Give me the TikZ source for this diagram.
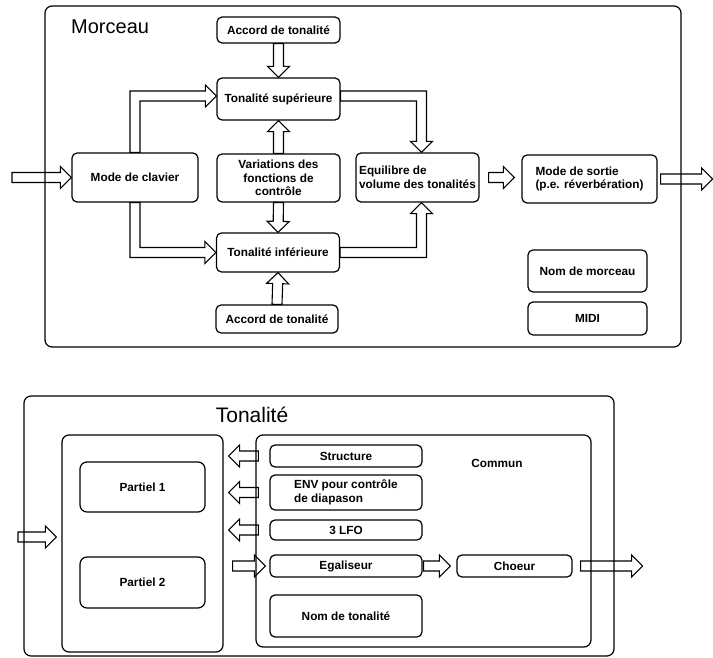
\documentclass[tikz,border=0pt]{standalone}
\usepackage{fontspec}
\setmainfont{Liberation Sans}
\usetikzlibrary{calc}
\pgfdeclarelayer{bg}
\pgfsetlayers{bg,main}
\def\aw{5pt}\def\ahw{11pt}\def\ahl{11pt}
\newcommand{\boxfont}{\bfseries\fontsize{11.8}{13.5}\selectfont}
\tikzset{
 box/.style={draw, line width=1.2pt, rounded corners=5pt, align=center, inner sep=2pt, font=\boxfont},
 frame/.style={draw, line width=1.2pt, rounded corners=7pt, inner sep=0pt},
 barr/.style={draw, fill=white, line width=1.1pt, line join=miter},
}
\newcommand{\barrow}[2]{%
 \coordinate (bah) at ($(#2)!\ahl!(#1)$);
 \draw[barr] ($(#1)!\aw!90:(#2)$) -- ($(bah)!\aw!90:(#2)$) -- ($(bah)!\ahw!90:(#2)$) -- (#2)
   -- ($(bah)!\ahw!-90:(#2)$) -- ($(bah)!\aw!-90:(#2)$) -- ($(#1)!\aw!-90:(#2)$) -- cycle;}
% L-shaped hollow arrow: #1 start, #2 corner, #3 tip
\newcommand{\lblock}[3]{%
 \coordinate (bah) at ($(#3)!\ahl!(#2)$);
 \coordinate (ua) at ($(#2)!\aw!(#1)$);
 \coordinate (ut) at ($(#2)!\aw!(#3)$);
 \coordinate (ha) at ($(#2)!\ahw!(#1)$);
 \draw[barr] ($(#1)+(ut)-(#2)$) -- ($(ua)+(ut)-(#2)$) -- ($(bah)+(ua)-(#2)$) -- ($(bah)+(ha)-(#2)$)
   -- (#3) -- ($(bah)-(ha)+(#2)$) -- ($(bah)-(ua)+(#2)$)
   -- ($(#2)-(ua)+(#2)-(ut)+(#2)$) -- ($(#1)-(ut)+(#2)$) -- cycle;}
\begin{document}
\begin{tikzpicture}[x=1pt,y=-1pt]
\useasboundingbox (0,0) rectangle (713,658);
% ---------- Morceau ----------
\node[frame, minimum width=636pt, minimum height=341pt] (morceau) at (363,176.5) {};
\node[anchor=west, inner sep=0pt, font=\fontsize{20}{24}\selectfont] (tmor) at (71,27) {Morceau};
\node[box, minimum width=123pt, minimum height=26pt] (acc1) at (278.5,30) {Accord de tonalité};
\node[box, minimum width=123pt, minimum height=42pt] (tsup) at (278.5,99) {Tonalité supérieure};
\node[box, minimum width=126pt, minimum height=49pt] (clav) at (135,177.5) {Mode de clavier};
\node[box, minimum width=123pt, minimum height=48pt] (var) at (278.5,178) {Variations des\\fonctions de\\contrôle};
\node[box, align=left, minimum width=123pt, minimum height=49pt] (equil) at (417.5,177.5) {Equilibre de\\volume des tonalités};
\node[box, align=left, minimum width=135pt, minimum height=48pt] (sortie) at (589.5,179) {Mode de sortie\\(p.e. réverbération)};
\node[box, minimum width=123pt, minimum height=39pt] (tinf) at (278,252.5) {Tonalité inférieure};
\node[box, minimum width=122pt, minimum height=28pt] (acc2) at (277,319) {Accord de tonalité};
\node[box, minimum width=119pt, minimum height=42pt] (nommor) at (587.5,271) {Nom de morceau};
\node[box, minimum width=119pt, minimum height=33pt] (midi) at (587.5,318.5) {MIDI};
% ---------- Tonalite ----------
\node[frame, minimum width=590pt, minimum height=260pt] (tonalite) at (319,526) {};
\node[inner sep=0pt, font=\fontsize{21}{25}\selectfont] (tton) at (252,415) {Tonalité};
\node[frame, minimum width=161pt, minimum height=217pt] (cont) at (142.5,543.5) {};
\node[box, minimum width=125pt, minimum height=50pt, rounded corners=7pt] (p1) at (142.5,487) {Partiel 1};
\node[box, minimum width=125pt, minimum height=51pt, rounded corners=7pt] (p2) at (142.5,582.5) {Partiel 2};
\node[frame, minimum width=335pt, minimum height=212pt] (commun) at (423.5,541) {};
\node[inner sep=0pt, font=\boxfont] (lcom) at (497,463) {Commun};
\node[box, minimum width=152pt, minimum height=22pt] (struct) at (346,456) {Structure};
\node[box, align=left, minimum width=152pt, minimum height=35pt] (env) at (346,492.5) {ENV pour contrôle\\de diapason};
\node[box, minimum width=152pt, minimum height=20pt] (lfo) at (346,530) {3 LFO};
\node[box, minimum width=152pt, minimum height=22pt] (egal) at (346,566) {Egaliseur};
\node[box, minimum width=115pt, minimum height=22pt] (choeur) at (514.5,566) {Choeur};
\node[box, minimum width=152pt, minimum height=42pt] (nomton) at (346,616) {Nom de tonalité};
% ---------- arrows ----------
\begin{pgfonlayer}{bg}
\coordinate (in1) at (12,177.5);
\barrow{in1}{clav.west}
\barrow{acc1.south}{tsup.north}
\barrow{var.north}{tsup.south}
\barrow{var.south}{tinf.north}
\barrow{acc2.north}{tinf.south}
\coordinate[xshift=9pt] (q1) at (equil.east);
\coordinate[xshift=-7pt] (q2) at (q1 -| sortie.west);
\barrow{q1}{q2}
\coordinate[xshift=3pt] (o1) at (sortie.east);
\coordinate[xshift=52pt] (o2) at (o1);
\barrow{o1}{o2}
\coordinate[yshift=3pt] (w1) at (tsup.west);
\coordinate (c1) at (clav.north |- w1);
\lblock{clav.north}{c1}{w1}
\coordinate (c2) at (clav.south |- tinf.west);
\lblock{clav.south}{c2}{tinf.west}
\coordinate[xshift=4pt] (e1) at (equil.north);
\coordinate[yshift=3pt] (w2) at (tsup.east);
\coordinate (c3) at (w2 -| e1);
\lblock{w2}{c3}{e1}
\coordinate[xshift=4pt] (e2) at (equil.south);
\coordinate (c4) at (tinf.east -| e2);
\lblock{tinf.east}{c4}{e2}
% bottom
\coordinate (v1) at (18,537);
\coordinate[xshift=-5pt] (v2) at (cont.west |- v1);
\barrow{v1}{v2}
\coordinate[xshift=3pt] (s1) at (commun.west |- struct.west);
\coordinate[xshift=5pt] (s2) at (cont.east |- struct.west);
\barrow{s1}{s2}
\coordinate[xshift=3pt] (s3) at (commun.west |- env.west);
\coordinate[xshift=5pt] (s4) at (cont.east |- env.west);
\barrow{s3}{s4}
\coordinate[xshift=3pt] (s5) at (commun.west |- lfo.west);
\coordinate[xshift=5pt] (s6) at (cont.east |- lfo.west);
\barrow{s5}{s6}
\coordinate[xshift=9pt] (r1) at (cont.east |- egal.west);
\coordinate[xshift=-4pt] (r2) at (egal.west);
\barrow{r1}{r2}
\coordinate[xshift=1pt] (t1) at (egal.east);
\coordinate[xshift=-6pt] (t2) at (choeur.west);
\barrow{t1}{t2}
\coordinate[xshift=8pt] (u1) at (choeur.east);
\coordinate[xshift=70pt] (u2) at (choeur.east);
\barrow{u1}{u2}
\end{pgfonlayer}
\end{tikzpicture}
\end{document}
